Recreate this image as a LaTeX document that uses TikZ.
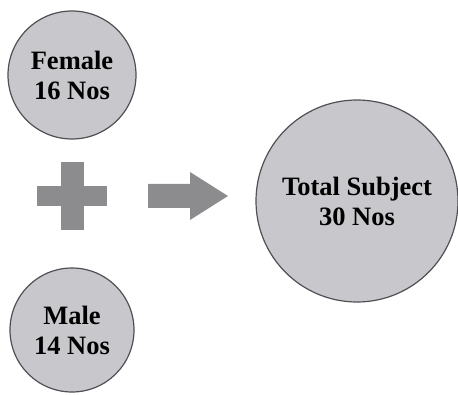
\documentclass[tikz,border=0pt]{standalone}
\usepackage{fontspec}
\setmainfont{Liberation Serif}
\usetikzlibrary{shapes,arrows}
\definecolor{discfill}{RGB}{200,200,204}
\definecolor{discline}{RGB}{80,80,84}
\definecolor{signgray}{RGB}{140,140,142}
\tikzstyle{group} = [circle, draw=discline, fill=discfill, line width=1.2pt,
    inner sep=0pt, align=center, font=\bfseries\fontsize{26.5}{30}\selectfont]
\tikzstyle{sign} = [fill=signgray]

\begin{document}
\begin{tikzpicture}[x=1pt, y=1pt]
        \useasboundingbox (0,0) rectangle (458,394);

        % Place nodes
        \node [group, minimum size=128pt] (female) at (72,319) {Female\\16 Nos};
        \node [group, minimum size=124pt] (male) at (72,64) {Male\\14 Nos};
        \node [group, minimum size=202pt] (total) at (357,193) {Total Subject\\30 Nos};

        % Plus and arrow
        \path [sign] (60.5,164) rectangle (83.5,232);
        \path [sign] (37,188) rectangle (107,208);
        \path [sign] (148,186) -- (190,186) -- (190,174) -- (228,198)
            -- (190,222) -- (190,210) -- (148,210) -- cycle;
    \end{tikzpicture}
\end{document}
